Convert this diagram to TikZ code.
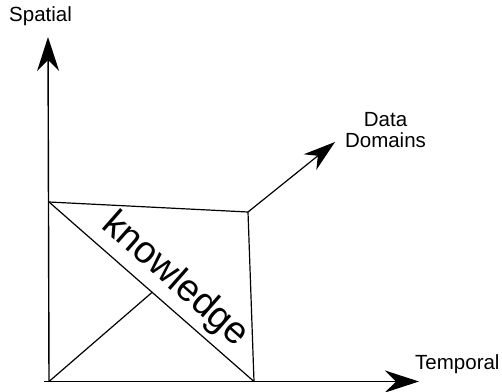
\documentclass[tikz,border=0pt]{standalone}
\usepackage{fontspec}
\setmainfont{Liberation Sans}
\usetikzlibrary{arrows.meta}
\begin{document}
\begin{tikzpicture}[x=1pt,y=-1pt,
  axis/.style={line width=1.4pt,-{Stealth[length=34pt,width=22pt,inset=11pt]}},
  edge/.style={line width=1.2pt},
  lbl/.style={font=\fontsize{20.5}{21}\selectfont,inner sep=0pt},
  big/.style={font=\fontsize{38}{40}\selectfont,inner sep=0pt}]
\useasboundingbox (0,0) rectangle (502,391);
% corners
\coordinate (O)  at (49,381.5);
\coordinate (TL) at (49,202);
\coordinate (TR) at (248,212);
\coordinate (BR) at (254,381.5);
\coordinate (M)  at (152.5,292);
\coordinate (YT) at (48,37);
\coordinate (XS) at (44,381.5);
\coordinate (XT) at (419,381.5);
\coordinate (DT) at (335,142);
% labels
\node[lbl,anchor=base west] (spatial) at (9,21.7) {Spatial};
\node[lbl,anchor=base west] (temporal) at (415,369.3) {Temporal};
\node[lbl,anchor=base,align=center] (domains) at (385.5,147) {Data\\Domains};
% axes
\draw[axis] (O) -- (YT);
\draw[axis] (XS) -- (XT);
\draw[edge,-{Stealth[length=32pt,width=20pt,inset=10pt]}] (TR) -- (DT);
% square
\draw[edge] (TL) -- (TR) -- (BR);
\draw[edge] (TL) -- (BR);
\draw[edge] (O) -- (M);
% knowledge
\node[big,anchor=base,rotate=-41.4] (know) at (168.5,287.5) {knowledge};
\end{tikzpicture}
\end{document}
